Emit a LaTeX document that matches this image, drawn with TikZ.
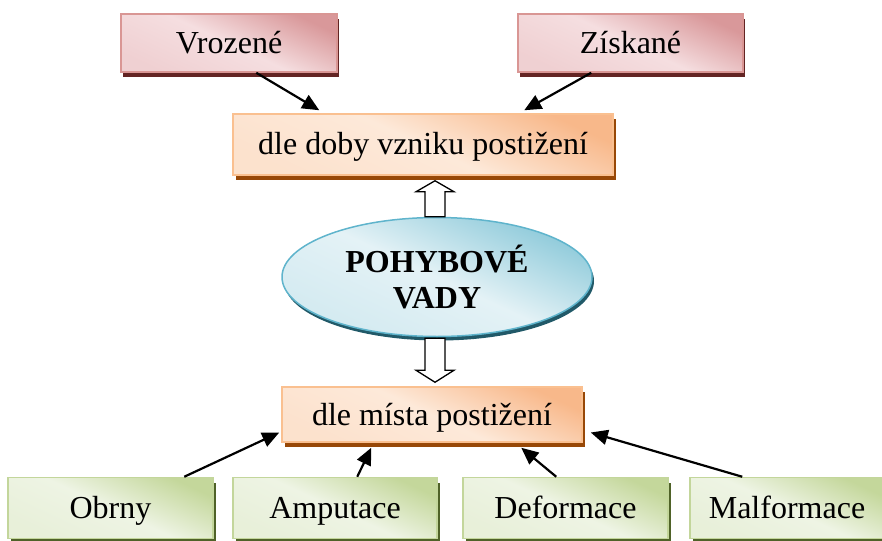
\documentclass[tikz,border=0pt]{standalone}
\usepackage{fontspec}
\setmainfont{Liberation Serif}
\usetikzlibrary{arrows.meta,shadows,calc,shapes.geometric}
\definecolor{redL}{HTML}{F5DEE0}
\definecolor{redD}{HTML}{D9989A}
\definecolor{redS}{HTML}{632423}
\definecolor{redB}{HTML}{D99694}
\definecolor{orL}{HTML}{FDE9D9}
\definecolor{orD}{HTML}{F8B88A}
\definecolor{orS}{HTML}{984807}
\definecolor{orB}{HTML}{FAC090}
\definecolor{grL}{HTML}{EEF4E4}
\definecolor{grD}{HTML}{C4D79B}
\definecolor{grS}{HTML}{4F6228}
\definecolor{grB}{HTML}{C3D69B}
\definecolor{blL}{HTML}{E4F2F6}
\definecolor{blD}{HTML}{8ECADA}
\definecolor{blS}{HTML}{215968}
\definecolor{blB}{HTML}{5FB4CC}
\tikzset{
  x=1pt, y=-1pt,
  txt/.style={font=\fontsize{32}{36}\selectfont, inner sep=0pt, align=center},
  boxtxt/.style={txt, text height=24pt, text depth=3pt},
  redbox/.style={boxtxt, draw=redB, line width=1.5pt, top color=redD, bottom color=redL!80!redD, middle color=redL, shading angle=-25,
    drop shadow={shadow xshift=2pt, shadow yshift=-5pt, fill=redS, opacity=1}},
  orbox/.style={boxtxt, draw=orB, line width=1.5pt, top color=orD, bottom color=orL!85!orD, middle color=orL, shading angle=-25,
    drop shadow={shadow xshift=3pt, shadow yshift=-5pt, fill=orS, opacity=1}},
  grbox/.style={boxtxt, draw=grB, line width=1.5pt, top color=grD, bottom color=grL!85!grD, middle color=grL, shading angle=-25,
    drop shadow={shadow xshift=3pt, shadow yshift=-5pt, fill=grS, opacity=1}},
  ell/.style={txt, ellipse, draw=blB, line width=1.5pt, top color=blD, bottom color=blL!80!blD, middle color=blL, shading angle=-25,
    drop shadow={shadow xshift=2pt, shadow yshift=-4pt, fill=blS, opacity=1}},
  conn/.style={line width=2.2pt, -{Triangle[length=17pt,width=15pt]}},
  hollow/.style={draw=black, line width=1.3pt, fill=white}
}
\begin{document}
\begin{tikzpicture}
\useasboundingbox (0,0) rectangle (882,540);
\node[redbox, minimum width=216, minimum height=58] (vroz) at (229,43) {Vrozené};
\node[redbox, minimum width=225, minimum height=58] (zisk) at (630.5,43) {Získané};
\node[orbox, minimum width=380, minimum height=61] (doby) at (423,144.5) {dle doby vzniku postižení};
\node[ell, minimum width=310, minimum height=119] (pv) at (437,277) {\bfseries POHYBOVÉ\\\bfseries VADY};
\node[orbox, minimum width=300, minimum height=55] (mista) at (432,414.5) {dle místa postižení};
\node[grbox, minimum width=205, minimum height=61] (obrny) at (110.5,508) {Obrny};
\node[grbox, minimum width=204, minimum height=61] (amput) at (335,508) {Amputace};
\node[grbox, minimum width=205, minimum height=61] (deform) at (565.5,508) {Deformace};
\node[grbox, minimum width=194, minimum height=61] (malf) at (787,508) {Malformace};

% connectors top
\draw[conn] ($(vroz.south west)+(136,0)$) -- ($(doby.north west)+(87,-3)$);
\draw[conn] ($(zisk.south west)+(74,0)$) -- ($(doby.north west)+(292,-3)$);
% connectors bottom
\draw[conn] ($(obrny.north west)+(177,0)$) -- ($(mista.west)+(-2,18)$);
\draw[conn] ($(amput.north west)+(125,0)$) -- ($(mista.south west)+(90,5)$);
\draw[conn] ($(deform.north west)+(94,0)$) -- ($(mista.south west)+(240,5)$);
\draw[conn] ($(malf.north west)+(53,0)$) -- ($(mista.east)+(8,18)$);

% hollow block arrows
\draw[hollow] ($(pv.north)+(-12,0)$) -- ++(0,-25) -- ++(-9,0) -- ++(19,-11) -- ++(19,11) -- ++(-9,0) -- ++(0,25) -- cycle;
\draw[hollow] ($(pv.south)+(-12,1)$) -- ++(0,32) -- ++(-9,0) -- ++(19,12) -- ++(19,-12) -- ++(-9,0) -- ++(0,-32) -- cycle;
\end{tikzpicture}
\end{document}
